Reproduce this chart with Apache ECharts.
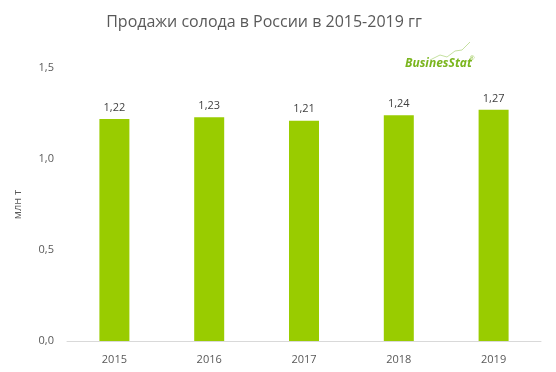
<!DOCTYPE html>
<html><head><meta charset="utf-8">
<script src="https://cdn.jsdelivr.net/npm/echarts@6/dist/echarts.min.js"></script>
<style>html,body{margin:0;padding:0;background:#fff}#c{width:556px;height:372px}</style>
</head><body><div id="c"></div>
<script>
const categories = ['2015','2016','2017','2018','2019'];
const values = [1.22, 1.23, 1.21, 1.24, 1.27];
const yTicks = [0, 0.5, 1.0, 1.5];
const chart = echarts.init(document.getElementById('c'), null, {renderer:'canvas'});
const font = '"Open Sans", "Noto Sans", sans-serif';
chart.setOption({
  animation:false,
  title:{text:'Продажи солода в России в 2015-2019 гг', left:259, top:9, textAlign:'center',
    textStyle:{fontFamily:font, fontSize:16, fontWeight:'normal', color:'#595959'}},
  grid:{left:67, right:15, top:68, bottom:31},
  xAxis:{type:'category', data:categories,
    axisLine:{lineStyle:{color:'#d9d9d9', width:1}}, axisTick:{show:false},
    axisLabel:{fontFamily:font, fontSize:11, color:'#595959', margin:13}},
  yAxis:{type:'value', min:yTicks[0], max:yTicks[yTicks.length-1], interval:0.5,
    name:'млн т', nameLocation:'middle', nameGap:44, nameRotate:90,
    nameTextStyle:{fontFamily:font, fontSize:11, color:'#595959'},
    axisLine:{show:false}, axisTick:{show:false}, splitLine:{show:false},
    axisLabel:{fontFamily:font, fontSize:11, color:'#595959', margin:13,
      formatter:v=>v.toFixed(1).replace('.', ',')}},
  series:[{type:'bar', data:values, barWidth:30,
    itemStyle:{color:'#99cc00'},
    label:{show:true, position:'top', distance:6, fontFamily:font, fontSize:11, color:'#404040',
      formatter:p=>p.value.toFixed(2).replace('.', ',')}}],
  graphic:[
    {type:'polyline', shape:{points:[[430,60],[440,55],[447,57],[455,51],[462,50],[470,42]]},
     style:{stroke:'#c5e0a0', lineWidth:1, fill:null}},
    {type:'text', left:405, top:58, style:{text:'BusinesStat', fontFamily:'"Open Sans", sans-serif', fontSize:12,
      fontWeight:'bold', fontStyle:'italic', fill:'#7ab51d'}},
    {type:'text', left:470, top:55, style:{text:'®', fontSize:6, fill:'#7ab51d'}}
  ]
});
</script></body></html>
